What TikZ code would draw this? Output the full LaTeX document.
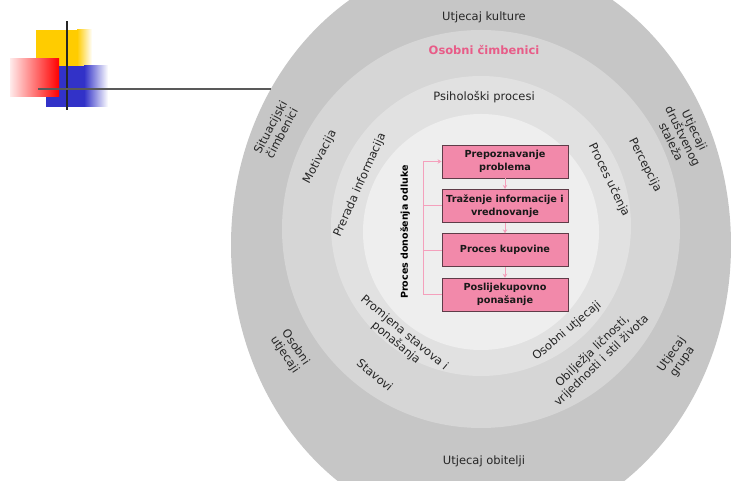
\documentclass[tikz,border=0pt]{standalone}
\usepackage{fontspec}
\setmainfont{DejaVu Sans}
\usetikzlibrary{positioning,arrows.meta}
\definecolor{ringA}{RGB}{198,198,198}
\definecolor{ringB}{RGB}{214,214,214}
\definecolor{ringC}{RGB}{225,225,225}
\definecolor{ringD}{RGB}{238,238,238}
\definecolor{boxfill}{RGB}{242,137,170}
\definecolor{boxline}{RGB}{95,60,72}
\definecolor{flowpink}{RGB}{244,160,188}
\definecolor{titlepink}{RGB}{232,92,136}
\definecolor{logoyel}{RGB}{255,204,0}
\definecolor{logoblu}{RGB}{50,50,200}
\begin{document}
\begin{tikzpicture}[x=1pt,y=1pt,
    ring/.style={font=\fontsize{11.5}{13}\selectfont, text=black!85, align=center, inner sep=0pt},
    stepbox/.style={draw=boxline, fill=boxfill, line width=0.9pt, minimum width=126pt,
      minimum height=33pt, align=center, inner sep=1pt, text=black!90,
      font=\fontsize{9.7}{13}\selectfont\bfseries},
    flow/.style={draw=flowpink, line width=0.9pt, -{Stealth[length=4pt,width=4.5pt]}},
    loop/.style={draw=flowpink, line width=0.9pt},
    node distance=10.5pt]
  \useasboundingbox (0,0) rectangle (731,481);
  % rings
  \begin{scope}
    \clip (0,0) rectangle (731,481);
    \fill[ringA] (481,236) ellipse [x radius=250, y radius=288];
  \end{scope}
  \fill[ringB] (481,252) circle [radius=199];
  \fill[ringC] (481,255) circle [radius=150];
  \fill[ringD] (481,249) circle [radius=118];
  % logo
  \fill[logoyel] (36,414) rectangle (77,451);
  \shade[left color=logoyel, right color=white] (77,414) rectangle (92,451);
  \fill[logoblu] (46,374) rectangle (84,415);
  \shade[left color=logoblu, right color=white] (84,374) rectangle (108,415);
  \shade[left color=red!8, right color=red] (10,384) rectangle (59,422);
  \coordinate (vtop) at (66.5,460);
  \coordinate (vbot) at (66.5,371);
  \coordinate (hl) at (38,392);
  \coordinate (hr) at (271,392);
  \draw[line width=2pt, black!85] (vbot) -- (vtop);
  \draw[line width=2pt, black!65] (hl) -- (hr);
  % outer ring
  \node[ring] (kult) at (484,464) {Utjecaj kulture};
  \node[ring] (obit) at (484,20) {Utjecaj obitelji};
  \node[ring, rotate=62] (sit) at (276,351) {Situacijski\\čimbenici};
  \node[ring, rotate=-64] (stal) at (683,345) {Utjecaji\\društvenog\\staleža};
  \node[ring, rotate=-56] (osut) at (290,130) {Osobni\\utjecaji};
  \node[ring, rotate=55] (grup) at (677,123) {Utjecaj\\grupa};
  % personal factors
  \node[ring, text=titlepink, font=\fontsize{11.5}{13}\selectfont\bfseries] (osc) at (484,431) {Osobni čimbenici};
  \node[ring, rotate=62] (mot) at (320,324) {Motivacija};
  \node[ring, rotate=-63] (perc) at (645,316) {Percepcija};
  \node[ring, rotate=-40] (stav) at (375,106) {Stavovi};
  \node[ring, rotate=44] (obil) at (597,125) {Obilježja ličnosti,\\vrijednosti i stil života};
  % psychological processes
  \node[ring] (psih) at (484,384) {Psihološki procesi};
  \node[ring, rotate=66] (prer) at (360,296) {Prerada informacija};
  \node[ring, rotate=-64] (uc) at (609,301) {Proces učenja};
  \node[ring, rotate=-40] (prom) at (400,143) {Promjena stavova i\\ponašanja};
  \node[ring, rotate=40] (osu) at (567,150) {Osobni utjecaji};
  % decision process
  \node[ring, rotate=90, text=black, font=\fontsize{9.5}{11}\selectfont\bfseries] (pd) at (405,249) {Proces donošenja odluke};
  \node[stepbox] (b1) at (505,319.5) {Prepoznavanje\\problema};
  \node[stepbox, below=of b1] (b2) {Traženje informacije i\\vrednovanje};
  \node[stepbox, below=of b2] (b3) {Proces kupovine};
  \node[stepbox, below=of b3] (b4) {Poslijekupovno\\ponašanje};
  \draw[flow] (b1) -- (b2);
  \draw[flow] (b2) -- (b3);
  \draw[flow] (b3) -- (b4);
  \coordinate (fb) at (423,0);
  \draw[loop] (b2.west) -- (b2.west -| fb);
  \draw[loop] (b3.west) -- (b3.west -| fb);
  \draw[flow] (b4.west) -- (b4.west -| fb) -- (b1.west -| fb) -- (b1.west);
\end{tikzpicture}
\end{document}
